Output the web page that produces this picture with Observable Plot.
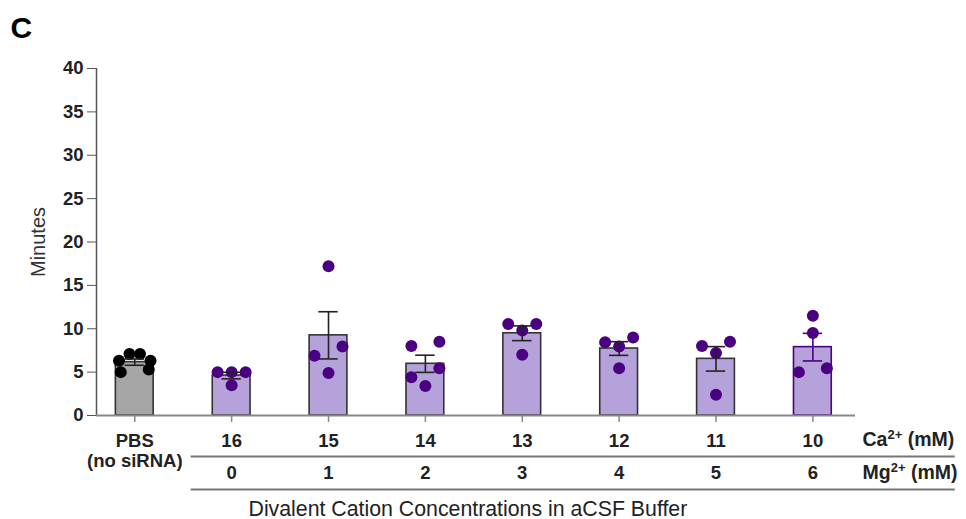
<!DOCTYPE html>
<html>
<head>
<meta charset="utf-8">
<script src="https://cdn.jsdelivr.net/npm/d3@7"></script>
<script src="https://cdn.jsdelivr.net/npm/@observablehq/plot@0.6"></script>
<style>
  html, body { margin: 0; padding: 0; background: #fff; }
  #chart svg { display: block; }
</style>
</head>
<body>
<div id="chart"></div>
<script>
// ---- data ----
const caLabels = ["PBS\n(no siRNA)", "16", "15", "14", "13", "12", "11", "10"];
const mgLabels = ["", "0", "1", "2", "3", "4", "5", "6"];
const means = [6.15, 4.6, 9.24, 5.96, 9.48, 7.72, 6.53, 7.88];
const sems  = [0.36, 0.38, 2.72, 0.99, 0.85, 0.79, 1.41, 1.59];
const ptsPBS = [7.1, 7.1, 6.3, 6.3, 5.3, 5.0];
const pts16 = [5.0, 5.0, 5.0, 3.5];
const pts15 = [17.2, 7.95, 6.9, 4.9];
const pts14 = [8.5, 8.0, 5.45, 4.4, 3.4];
const pts13 = [10.55, 10.55, 9.8, 7.0];
const pts12 = [9.0, 8.45, 7.95, 5.45];
const pts11 = [8.5, 8.0, 7.2, 2.4];
const pts10 = [11.5, 9.5, 5.45, 5.0];
const yTicks = [0, 5, 10, 15, 20, 25, 30, 35, 40];
const caUnit = "Ca2+ (mM)";
const mgUnit = "Mg2+ (mM)";
const yLabel = "Minutes";
const xTitle = "Divalent Cation Concentrations in aCSF Buffer";
const panel = "C";

// ---- layout / style ----
const W = 966, H = 519;
const mL = 96, mR = 111, mT = 68, mB = 104;
const xMin = -0.395, xMax = 7.44;
const barHalf = 0.195, capHalf = 0.1;
const gray = "#a6a6a6", lavender = "#b6a2db", indigo = "#4b0082";
const font = "Arial, 'Liberation Sans', Helvetica, sans-serif";
const sepStart = 0.582, sepEnd = 8.47;

const kx = (W - mL - mR) / (xMax - xMin); // px per x unit
const ky = (H - mT - mB) / 40;            // px per minute
const R = 6, D = 14, binH = 12;

// scatter layout in the style of a dot-plot: points binned by height,
// each bin spread symmetrically around the bar centre
function scatter(values) {
  const order = values.map((v, i) => i).sort((a, b) => values[b] - values[a]);
  const out = new Array(values.length);
  const bins = [];
  for (const i of order) {
    const last = bins[bins.length - 1];
    if (last && (values[last[0]] - values[i]) * ky < binH) last.push(i);
    else bins.push([i]);
  }
  for (const bin of bins) {
    const n = bin.length;
    let slots;
    if (n === 1) slots = [0];
    else if (n === 2) slots = [D, -D];
    else if (n === 3) slots = [D, -D, 0];
    else {
      const s = D * 0.75;
      slots = [];
      for (let k = 0; k < n; k += 2) {
        const o = (k / 2 + 0.5) * s;
        slots.push(o, -o);
      }
    }
    bin.forEach((idx, k) => out[idx] = slots[k] / kx);
  }
  return out;
}

const pointSets = [ptsPBS, pts16, pts15, pts14, pts13, pts12, pts11, pts10];
const rows = caLabels.map((c, i) => ({i, mean: means[i], sem: sems[i]}));
const dots = [];
pointSets.forEach((vals, i) => {
  const off = scatter(vals);
  vals.forEach((v, j) => dots.push({i, v, x: i + off[j]}));
});
const lineColor = d => d.i === 7 ? indigo : "#222";

const plot = Plot.plot({
  width: W, height: H,
  marginLeft: mL, marginRight: mR, marginTop: mT, marginBottom: mB,
  style: {fontFamily: font, background: "#fff", overflow: "visible"},
  x: {domain: [xMin, xMax], axis: null},
  y: {domain: [0, 40], axis: null},
  color: {type: "identity"},
  marks: [
    Plot.rect(rows, {
      x1: d => d.i - barHalf, x2: d => d.i + barHalf, y1: 0, y2: "mean",
      fill: d => d.i === 0 ? gray : lavender,
      stroke: d => d.i === 7 ? indigo : "#333", strokeWidth: 1.6
    }),
    Plot.dot(dots, {x: "x", y: "v", r: R, fill: d => d.i === 0 ? "#000" : indigo, stroke: null}),
    Plot.ruleX(rows, {x: "i", y1: d => d.mean - d.sem, y2: d => d.mean + d.sem, stroke: lineColor, strokeWidth: 1.6}),
    Plot.ruleY(rows, {y: d => d.mean + d.sem, x1: d => d.i - capHalf, x2: d => d.i + capHalf, stroke: lineColor, strokeWidth: 1.6}),
    Plot.ruleY(rows, {y: d => d.mean - d.sem, x1: d => d.i - capHalf, x2: d => d.i + capHalf, stroke: lineColor, strokeWidth: 1.6}),
    // axes
    Plot.ruleX([xMin], {y1: 0, y2: 40, stroke: "#555", strokeWidth: 1.5}),
    Plot.ruleY([0], {x1: xMin, x2: xMax, stroke: "#888", strokeWidth: 2}),
    Plot.axisY(yTicks, {tickSize: 9, tickPadding: 4, fontSize: 18.5, fontWeight: "bold", stroke: "#555", fill: "#222", label: null}),
    Plot.axisX(rows.map(d => d.i), {tickSize: 7, tickFormat: () => "", stroke: "#888", strokeWidth: 1.5, label: null}),
    // category labels
    Plot.text(rows, {x: "i", text: d => caLabels[d.i], frameAnchor: "bottom", dy: 17, lineAnchor: "top",
      fontSize: 18.5, fontWeight: "bold", fill: "#222", lineHeight: 1.1}),
    Plot.text(rows.filter(d => mgLabels[d.i] !== ""), {x: "i", text: d => mgLabels[d.i], frameAnchor: "bottom", dy: 50, lineAnchor: "top",
      fontSize: 18.5, fontWeight: "bold", fill: "#222"}),
    Plot.ruleY([0], {x1: sepStart, x2: sepEnd, dy: 41, stroke: "#777", strokeWidth: 2}),
    Plot.ruleY([0], {x1: sepStart, x2: sepEnd, dy: 74, stroke: "#777", strokeWidth: 2}),
    Plot.text([caUnit], {text: d => d, frameAnchor: "bottom-right", textAnchor: "start", dx: 7, dy: 17, lineAnchor: "top",
      fontSize: 19.5, fontWeight: "bold", fill: "#222"}),
    Plot.text([mgUnit], {text: d => d, frameAnchor: "bottom-right", textAnchor: "start", dx: 7, dy: 50, lineAnchor: "top",
      fontSize: 19.5, fontWeight: "bold", fill: "#222"}),
    Plot.text([xTitle], {text: d => d, frameAnchor: "bottom-left", textAnchor: "start", dx: 152, dy: 85, lineAnchor: "top",
      fontSize: 21.3, fill: "#222"}),
    Plot.text([yLabel], {text: d => d, frameAnchor: "left", textAnchor: "middle", rotate: -90, dx: -57.5, fontSize: 20, fill: "#333"}),
    Plot.text([panel], {text: d => d, frameAnchor: "top-left", textAnchor: "start", dx: -86, dy: -52, lineAnchor: "top",
      fontSize: 30, fontWeight: "bold", fill: "#000"})
  ]
});

// superscripts for the unit labels
plot.querySelectorAll("text").forEach(t => {
  const m = /^(Ca|Mg)2\+ (\(mM\))$/.exec(t.textContent);
  if (!m) return;
  t.textContent = "";
  const ns = "http://www.w3.org/2000/svg";
  const a = document.createElementNS(ns, "tspan"); a.textContent = m[1];
  const b = document.createElementNS(ns, "tspan"); b.textContent = "2+";
  b.setAttribute("dy", "-7"); b.setAttribute("font-size", "13");
  const c = document.createElementNS(ns, "tspan"); c.textContent = " " + m[2];
  c.setAttribute("dy", "7");
  t.append(a, b, c);
});

document.getElementById("chart").append(plot);
</script>
</body>
</html>
